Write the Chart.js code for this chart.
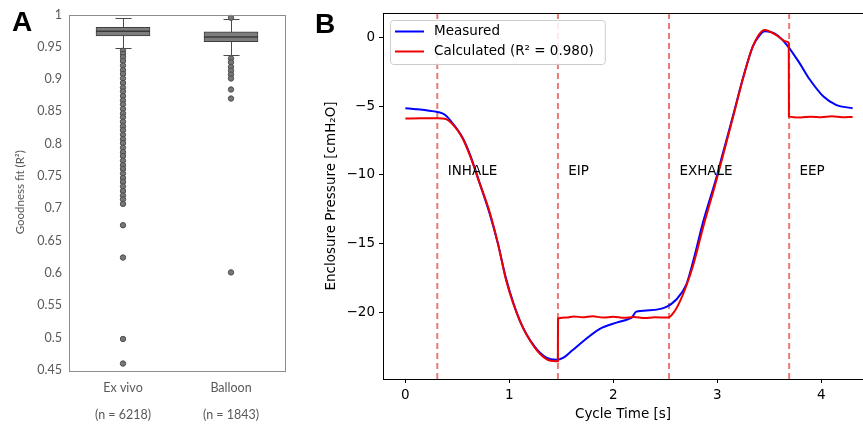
<!DOCTYPE html>
<html>
<head>
<meta charset="utf-8">
<script src="https://cdn.jsdelivr.net/npm/chart.js@4.4.1/dist/chart.umd.min.js"></script>
<style>
    body { margin: 0; width: 863px; height: 426px; overflow: hidden; background: #fff; position: relative; }
    .wrap { position: absolute; top: 0; height: 426px; }
    .panel { position: absolute; font: bold 28px "Liberation Sans", Arial, sans-serif; line-height: 28px; color: #000; }
</style>
</head>
<body>
<div class="wrap" style="left:0;width:300px;"><canvas id="chartA"></canvas></div>
<div class="wrap" style="left:300px;width:563px;"><canvas id="chartB"></canvas></div>
<div class="panel" style="left:12px;top:8px;">A</div>
<div class="panel" style="left:315px;top:10px;">B</div>
<script>
// ---- panel A : goodness of fit boxplots ----
const boxLabels = ['Ex vivo', 'Balloon'];
const sampleSizes = ['(n = 6218)', '(n = 1843)'];
const boxQ1 = [0.967, 0.958];
const boxQ3 = [0.980, 0.973];
const boxMedian = [0.974, 0.965];
const whiskerLow = [0.948, 0.937];
const whiskerHigh = [0.994, 0.993];
const outliersExVivo = [0.944, 0.939, 0.934, 0.928, 0.921, 0.914, 0.908, 0.901, 0.894, 0.887,
    0.881, 0.874, 0.867, 0.861, 0.854, 0.847, 0.841, 0.834, 0.827, 0.821, 0.814, 0.807, 0.801,
    0.794, 0.787, 0.781, 0.774, 0.767, 0.761, 0.754, 0.747, 0.741, 0.734, 0.727, 0.720, 0.714,
    0.707, 0.674, 0.624, 0.498, 0.460];
const outliersBalloon = [0.995, 0.932, 0.926, 0.919, 0.913, 0.907, 0.901, 0.884, 0.870, 0.601];
const yTicksA = [1, 0.95, 0.9, 0.85, 0.8, 0.75, 0.7, 0.65, 0.6, 0.55, 0.5, 0.45];

// ---- panel B : enclosure pressure over one cycle ----
const measuredTime = [0, 0.1, 0.2, 0.31, 0.38, 0.46, 0.55, 0.625, 0.714, 0.81, 0.89, 0.97, 1.10,
    1.243, 1.356, 1.45, 1.52, 1.6, 1.71, 1.87, 2.03, 2.14, 2.18, 2.22, 2.35, 2.51, 2.6, 2.7, 2.77,
    2.86, 2.99, 3.05, 3.15, 3.25, 3.34, 3.40, 3.455, 3.57, 3.68, 3.79, 3.89, 4.02, 4.14, 4.30];
const measuredPressure = [-5.15, -5.22, -5.3, -5.42, -5.62, -6.3, -7.3, -8.6, -10.6, -12.8, -15.0,
    -17.6, -20.6, -22.5, -23.3, -23.45, -23.3, -22.8, -22.1, -21.2, -20.75, -20.5, -20.35, -19.95,
    -19.85, -19.6, -19.1, -18.0, -16.2, -13.5, -10.2, -8.5, -5.7, -2.84, -0.66, 0.1, 0.45, 0.2,
    -0.66, -1.87, -3.08, -4.3, -4.9, -5.15];
const calculatedTime = [0, 0.15, 0.31, 0.38, 0.46, 0.55, 0.625, 0.714, 0.81, 0.89, 0.97, 1.10, 1.243,
    1.356, 1.45, 1.466, 1.468, 1.55, 1.62, 1.7, 1.8, 1.9, 2.0, 2.1, 2.2, 2.3, 2.4, 2.525, 2.59, 2.64,
    2.7, 2.77, 2.86, 2.99, 3.05, 3.15, 3.25, 3.34, 3.455, 3.57, 3.66, 3.686, 3.688, 3.8, 3.9, 4.0,
    4.1, 4.2, 4.30];
const calculatedPressure = [-5.9, -5.87, -5.88, -5.92, -6.36, -7.33, -8.67, -10.6, -12.7, -15.0, -17.7,
    -20.6, -22.55, -23.4, -23.55, -23.55, -20.45, -20.38, -20.3, -20.36, -20.28, -20.38, -20.32,
    -20.4, -20.34, -20.42, -20.36, -20.38, -19.9, -19.2, -18.1, -16.5, -13.9, -10.4, -8.7, -5.8,
    -2.9, -0.66, 0.55, 0.15, -0.29, -0.4, -5.76, -5.82, -5.76, -5.8, -5.74, -5.81, -5.78];
const phaseStarts = [0.307, 1.467, 2.535, 3.69];
const phaseNames = ['INHALE', 'EIP', 'EXHALE', 'EEP'];
const xTicksB = [0, 1, 2, 3, 4];
const yTicksB = [-20, -15, -10, -5, 0];
const xRangeB = [-0.215, 4.40];
const yRangeB = [-24.85, 1.78];

const grayText = '#595959';
const labelFontA = { family: 'Lato, "Open Sans", sans-serif', size: 12.5 };
const mplFont = { family: '"DejaVu Sans", sans-serif', size: 13.5 };

// whiskers, caps and medians for the boxes
const boxPartsPlugin = {
    id: 'boxParts',
    beforeDatasetsDraw(chart) {
        const { ctx, scales: { x, y } } = chart;
        ctx.save();
        ctx.strokeStyle = '#4a4a4a';
        ctx.lineWidth = 1;
        boxLabels.forEach((lab, i) => {
            const px = Math.round(x.getPixelForValue(i)) + 0.5;
            ctx.beginPath();
            ctx.moveTo(px, y.getPixelForValue(boxQ3[i]));
            ctx.lineTo(px, y.getPixelForValue(whiskerHigh[i]));
            ctx.moveTo(px, y.getPixelForValue(boxQ1[i]));
            ctx.lineTo(px, y.getPixelForValue(whiskerLow[i]));
            [whiskerHigh[i], whiskerLow[i]].forEach(v => {
                const py = Math.round(y.getPixelForValue(v)) + 0.5;
                ctx.moveTo(px - 8, py);
                ctx.lineTo(px + 8, py);
            });
            ctx.stroke();
        });
        ctx.restore();
    },
    afterDatasetsDraw(chart) {
        const { ctx, chartArea: a, scales: { x, y } } = chart;
        ctx.save();
        ctx.strokeStyle = '#3a3a3a';
        ctx.lineWidth = 1.5;
        boxLabels.forEach((lab, i) => {
            const px = x.getPixelForValue(i);
            const py = y.getPixelForValue(boxMedian[i]);
            ctx.beginPath();
            ctx.moveTo(px - 27, py);
            ctx.lineTo(px + 27, py);
            ctx.stroke();
        });
        ctx.strokeStyle = '#8c8c8c';
        ctx.lineWidth = 1;
        ctx.strokeRect(Math.round(a.left) + 0.5, Math.round(a.top) + 0.5,
            Math.round(a.right - a.left), Math.round(a.bottom - a.top));
        ctx.restore();
    }
};

new Chart(document.getElementById('chartA'), {
    type: 'bar',
    data: {
        datasets: [{
            data: boxLabels.map((lab, i) => ({ x: i, y: [boxQ1[i], boxQ3[i]] })),
            backgroundColor: '#7d7d7d',
            borderColor: '#3f3f3f',
            borderWidth: 1,
            borderSkipped: false,
            barThickness: 54,
            order: 2
        }, {
            type: 'scatter',
            data: outliersExVivo.map(v => ({ x: 0, y: v }))
                .concat(outliersBalloon.map(v => ({ x: 1, y: v }))),
            pointRadius: 2.7,
            backgroundColor: '#777777',
            borderColor: '#4d4d4d',
            borderWidth: 1,
            order: 1
        }]
    },
    options: {
        responsive: true,
        maintainAspectRatio: false,
        animation: false,
        devicePixelRatio: 1,
        layout: { padding: { left: 9, top: 14, right: 15, bottom: 0 } },
        plugins: { legend: { display: false }, tooltip: { enabled: false } },
        scales: {
            x: {
                type: 'linear',
                min: -0.5,
                max: 1.5,
                offset: false,
                grid: { display: false, drawTicks: false },
                border: { display: false },
                afterBuildTicks: (s) => { s.ticks = boxLabels.map((lab, i) => ({ value: i })); },
                ticks: { color: grayText, font: { ...labelFontA, lineHeight: 2.2 }, padding: 4, maxRotation: 0,
                    callback: (v) => [boxLabels[v], sampleSizes[v]] },
                afterFit: (s) => { s.height = 56; }
            },
            y: {
                min: 0.45,
                max: 1,
                grid: { display: false, drawTicks: false },
                border: { display: false },
                afterBuildTicks: (s) => { s.ticks = yTicksA.map(v => ({ value: v })); },
                ticks: { color: grayText, font: labelFontA, padding: 7,
                    callback: (v) => String(parseFloat(Number(v).toFixed(2))) },
                title: { display: true, text: 'Goodness fit (R²)', color: grayText,
                    font: { family: 'Lato, "Open Sans", sans-serif', size: 11.5 } },
                afterFit: (s) => { s.width = 60; }
            }
        }
    },
    plugins: [boxPartsPlugin]
});

// phase names, top spine and legend for panel B
const panelBPlugin = {
    id: 'panelB',
    afterDatasetsDraw(chart) {
        const { ctx, chartArea: a, scales: { x, y } } = chart;
        ctx.save();
        ctx.fillStyle = '#000';
        ctx.font = `${mplFont.size}px ${mplFont.family}`;
        ctx.textBaseline = 'alphabetic';
        ctx.textAlign = 'left';
        phaseNames.forEach((name, i) => {
            ctx.fillText(name, x.getPixelForValue(phaseStarts[i] + 0.1), y.getPixelForValue(-10));
        });
        ctx.strokeStyle = '#000';
        ctx.lineWidth = 1;
        ctx.beginPath();
        ctx.moveTo(a.left, Math.round(a.top) + 0.5);
        ctx.lineTo(a.right, Math.round(a.top) + 0.5);
        ctx.stroke();

        // legend box
        const items = chart.data.datasets.filter(d => d.label);
        const textW = Math.max(...items.map(d => ctx.measureText(d.label).width));
        const bx = a.left + 7, by = a.top + 7;
        const bw = 44 + textW + 11, bh = 44;
        ctx.beginPath();
        ctx.roundRect(bx + 0.5, by + 0.5, bw, bh, 3);
        ctx.fillStyle = 'rgba(255,255,255,0.85)';
        ctx.fill();
        ctx.strokeStyle = '#cccccc';
        ctx.stroke();
        ctx.textBaseline = 'middle';
        items.forEach((d, i) => {
            const ly = by + 11.5 + i * 20;
            ctx.strokeStyle = d.borderColor;
            ctx.lineWidth = 2;
            ctx.beginPath();
            ctx.moveTo(bx + 5, ly);
            ctx.lineTo(bx + 34, ly);
            ctx.stroke();
            ctx.fillStyle = '#000';
            ctx.fillText(d.label, bx + 44, ly);
        });
        ctx.restore();
    }
};

const phaseLineSets = phaseStarts.map(t => ({
    data: [{ x: t, y: yRangeB[0] }, { x: t, y: yRangeB[1] }],
    borderColor: 'rgba(225, 70, 70, 0.72)',
    borderWidth: 2,
    borderDash: [6, 4],
    pointRadius: 0,
    order: 3
}));

new Chart(document.getElementById('chartB'), {
    type: 'line',
    data: {
        datasets: [{
            label: 'Measured',
            data: measuredTime.map((t, i) => ({ x: t, y: measuredPressure[i] })),
            borderColor: '#0000ff',
            borderWidth: 2,
            pointRadius: 0,
            cubicInterpolationMode: 'monotone',
            order: 2
        }, {
            label: 'Calculated (R² = 0.980)',
            data: calculatedTime.map((t, i) => ({ x: t, y: calculatedPressure[i] })),
            borderColor: '#ee0000',
            borderWidth: 2,
            pointRadius: 0,
            cubicInterpolationMode: 'monotone',
            order: 1
        }, ...phaseLineSets]
    },
    options: {
        responsive: true,
        maintainAspectRatio: false,
        animation: false,
        devicePixelRatio: 1,
        layout: { padding: { left: 19, top: 13, right: 0, bottom: 0 } },
        plugins: { legend: { display: false }, tooltip: { enabled: false } },
        scales: {
            x: {
                type: 'linear',
                min: xRangeB[0],
                max: xRangeB[1],
                grid: { drawOnChartArea: false, drawTicks: true, tickLength: 4, tickColor: '#000' },
                border: { display: true, color: '#000', width: 1 },
                afterBuildTicks: (s) => { s.ticks = xTicksB.map(v => ({ value: v })); },
                ticks: { color: '#000', font: mplFont, padding: 4, maxRotation: 0 },
                title: { display: true, text: 'Cycle Time [s]', color: '#000', font: mplFont,
                    padding: { top: 2, bottom: 3 } },
                afterFit: (s) => { s.height = 47; }
            },
            y: {
                min: yRangeB[0],
                max: yRangeB[1],
                grid: { drawOnChartArea: false, drawTicks: true, tickLength: 4, tickColor: '#000' },
                border: { display: true, color: '#000', width: 1 },
                afterBuildTicks: (s) => { s.ticks = yTicksB.map(v => ({ value: v })); },
                ticks: { color: '#000', font: mplFont, padding: 4,
                    callback: (v) => (v < 0 ? '\u2212' + Math.abs(v) : String(v)) },
                title: { display: true, text: 'Enclosure Pressure [cmH₂O]', color: '#000', font: mplFont },
                afterFit: (s) => { s.width = 64; }
            }
        }
    },
    plugins: [panelBPlugin]
});
</script>
</body>
</html>
